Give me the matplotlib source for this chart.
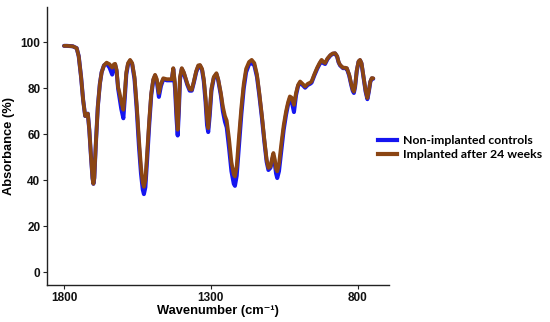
import matplotlib
matplotlib.use("Agg")
import matplotlib.pyplot as plt
from matplotlib.lines import Line2D

wavenumber = [1800, 1790, 1770, 1757, 1750, 1742, 1735, 1728, 1723, 1719, 1714, 1708, 1703, 1700,
              1697, 1692, 1685, 1678, 1672, 1664, 1655, 1645, 1636, 1630, 1626, 1621, 1616, 1611,
              1605, 1598, 1593, 1588, 1582, 1575, 1568, 1560, 1552, 1545, 1538, 1532, 1528, 1523,
              1517, 1510, 1503, 1496, 1490, 1484, 1477, 1470, 1462, 1450, 1440, 1433, 1428, 1422,
              1417, 1413, 1409, 1405, 1399, 1392, 1380, 1372, 1365, 1358, 1350, 1343, 1337, 1330,
              1324, 1318, 1313, 1309, 1304, 1298, 1290, 1281, 1275, 1266, 1259, 1252, 1246, 1238,
              1230, 1222, 1218, 1212, 1205, 1196, 1188, 1180, 1170, 1161, 1152, 1143, 1135, 1126,
              1118, 1110, 1104, 1097, 1090, 1087, 1082, 1078, 1074, 1068, 1060, 1052, 1044, 1037,
              1031, 1025, 1017, 1010, 1003, 996, 988, 979, 970, 962, 957, 948, 938, 930, 923, 917,
              911, 903, 893, 885, 877, 870, 865, 860, 850, 843, 837, 829, 822, 817, 813, 809, 803,
              797, 792, 787, 780, 773, 767, 762, 757, 752, 747]

implanted = [98.5, 98.5, 98.3, 97.5, 94, 85, 75, 68, 68.5, 69, 62, 50, 41, 38.5,
             41, 55, 72, 82, 87, 90, 91.2, 90.5, 89, 90.5, 90.7, 88, 80.5, 78,
             74, 70.7, 78, 87, 91, 92.4, 91, 85, 72, 58, 46, 39, 37.2, 40,
             52, 66, 78, 84, 85.9, 84, 78, 82, 84.4, 84, 84, 84, 88.8, 82,
             70, 62, 72, 85, 88.8, 87, 82, 79.6, 79.4, 83, 87.5, 90, 90.2, 88.5,
             84, 76, 67, 62.7, 70, 80, 85, 86.6, 84, 78, 72, 68, 66, 58,
             48, 42.5, 41.7, 46, 58, 72, 82, 88.5, 91.5, 92.4, 91, 86, 78, 68,
             58, 49, 45.4, 46, 50.5, 51.9, 49, 45, 43.9, 47, 56, 64, 70, 74,
             76.5, 76, 72.8, 78, 81.5, 83, 82, 80.8, 82, 82.5, 83, 86, 89, 91, 92.4, 91.5,
             91, 93, 94.5, 95.2, 95.3, 94, 91.5, 90.2, 89, 89, 88.8, 86, 82, 79.5, 78.6, 81, 88,
             91.8, 92.4, 91, 85, 79, 75.8, 79, 83, 84.5, 84.4]

controls = [98.5, 98.5, 98.3, 97.5, 94, 85, 75, 68, 68.5, 69, 62, 50, 41, 38.5,
            41, 55, 72, 82, 87, 90, 90.8, 89, 86, 89.5, 90.3, 87.5, 80, 76,
            71, 67, 76, 86, 90.5, 92, 90.5, 84, 70, 55, 43, 36, 34, 37,
            49, 64, 77, 83.5, 85.5, 83, 76.3, 81, 84, 83.5, 83.5, 83.5, 88.5, 80,
            67, 59.5, 70, 84, 88.5, 86.5, 81.5, 79, 79, 82.5, 87, 89.5, 89.8, 88,
            83, 74, 64, 61, 68, 79, 84.5, 86.2, 83.5, 77, 70, 65.5, 63, 54,
            44, 38.5, 37.6, 42, 54, 69, 80, 87, 90.5, 91, 90, 85, 77, 67,
            57, 48, 44.5, 45.5, 49.5, 50.5, 47, 43, 41, 44, 53, 62, 68.5, 73,
            75.5, 74.5, 69.7, 77, 81, 82.5, 81.5, 80.3, 81.5, 82, 82.5, 85.5, 88.5, 90.5, 92, 91,
            90.6, 92.7, 94.3, 95, 95.2, 93.8, 91.3, 90, 88.8, 88.8, 88.6, 85.6, 81.5, 79, 78, 80.5, 87.6,
            91.6, 92.2, 90.8, 84.6, 78.6, 75.3, 78.6, 82.8, 84.3, 84.2]

series_labels = ["Non-implanted controls", "Implanted after 24 weeks"]
series_colors = ["#1515F0", "#8B4513"]
y_ticks = [0, 20, 40, 60, 80, 100]
x_ticks = [1800, 1300, 800]

plt.rcParams['font.family'] = ['Liberation Sans', 'DejaVu Sans']
plt.rcParams['font.weight'] = 'bold'

fig = plt.figure(figsize=(5.5, 3.22), dpi=100)
ax = fig.add_axes([0.086, 0.115, 0.622, 0.864])

ax.plot(wavenumber, controls, color=series_colors[0], lw=2.9, solid_joinstyle='round',
        solid_capstyle='round', zorder=2)
ax.plot(wavenumber, implanted, color=series_colors[1], lw=2.7, solid_joinstyle='round',
        solid_capstyle='round', zorder=3)

ax.set_xlim(1857, 692)
ax.set_ylim(-5.5, 115.5)
ax.set_xticks(x_ticks)
ax.set_yticks(y_ticks)
ax.set_xticklabels([str(t) for t in x_ticks], fontsize=8.5, fontweight='bold')
ax.set_yticklabels([str(t) for t in y_ticks], fontsize=8.5, fontweight='bold')
ax.tick_params(axis='both', length=3, width=0.8, direction='out', pad=2, colors='#222222',
               labelcolor='#111111')

for side in ['top', 'right']:
    ax.spines[side].set_visible(False)
for side in ['left', 'bottom']:
    ax.spines[side].set_linewidth(1.0)
    ax.spines[side].set_color('#222222')

ax.set_xlabel("Wavenumber (cm\u207b\u00b9)", fontsize=9.3, fontweight='bold', labelpad=1)
ax.set_ylabel("Absorbance (%)", fontsize=9.3, fontweight='bold', labelpad=4)

handles = [Line2D([0], [0], color=c, lw=3) for c in series_colors]
fig.legend(handles, series_labels, loc='center left', bbox_to_anchor=(0.687, 0.542),
           frameon=False, handlelength=1.6, handletextpad=0.45, labelspacing=0.25,
           borderpad=0, borderaxespad=0,
           prop={'family': 'Lato', 'weight': 'bold', 'size': 8.8})

fig.savefig("out.png", dpi=100)
